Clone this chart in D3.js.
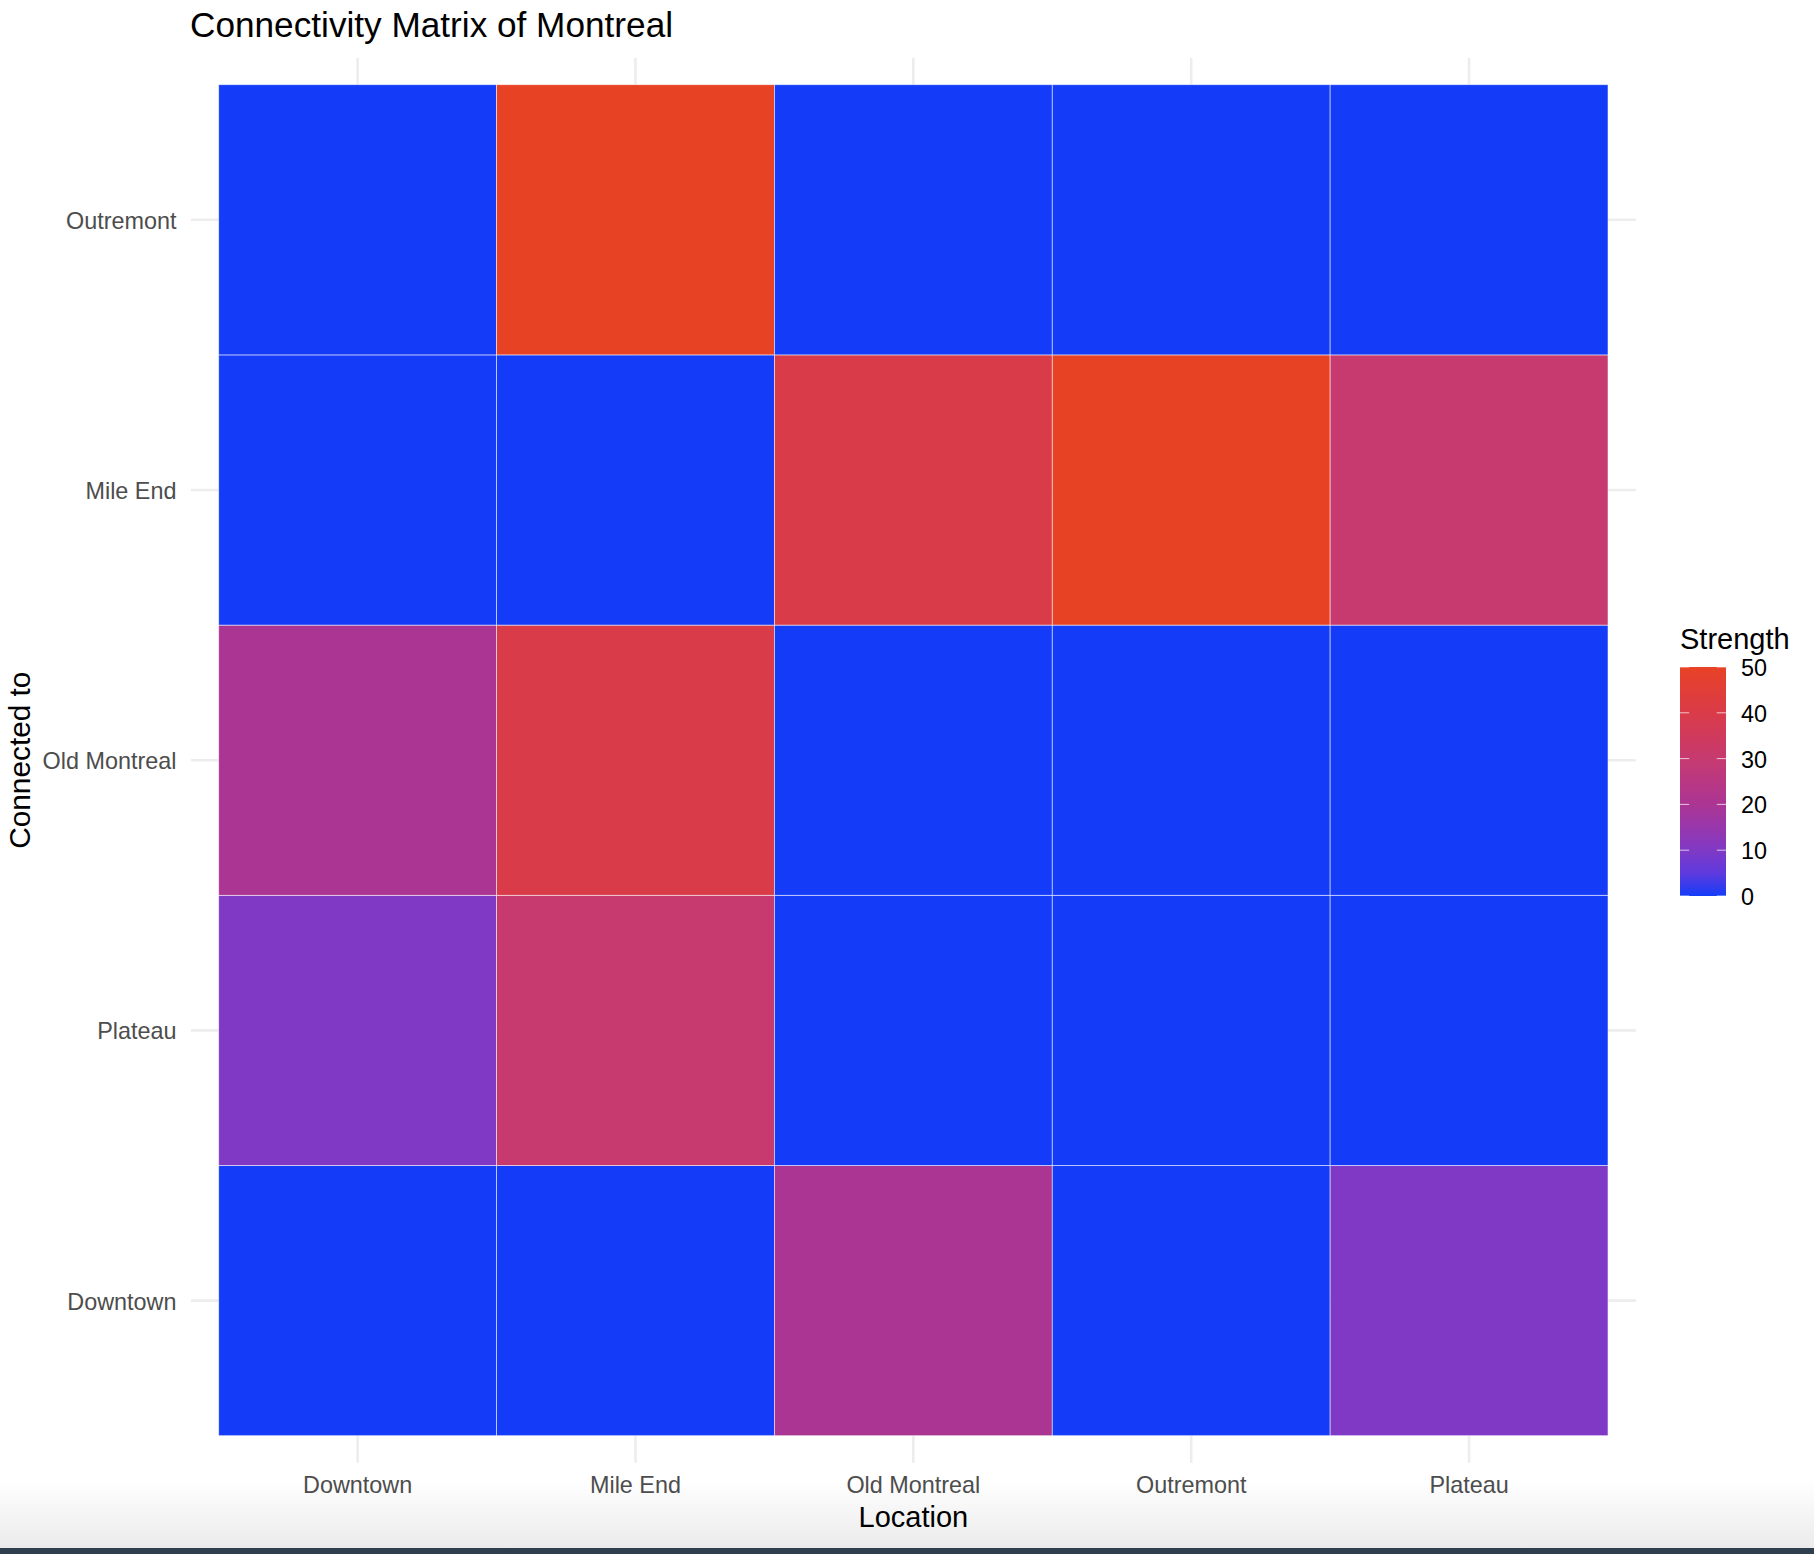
<!DOCTYPE html>
<html>
<head>
<meta charset="utf-8">
<script src="https://cdn.jsdelivr.net/npm/d3@7"></script>
<style>
    html, body { margin:0; padding:0; background:#fff; }
    svg { display:block; font-family:"Liberation Sans", Arial, sans-serif; }
</style>
</head>
<body>
<script>
//categories and values
const locations = ["Downtown", "Mile End", "Old Montreal", "Outremont", "Plateau"];
const connectedTo = ["Downtown", "Plateau", "Old Montreal", "Mile End", "Outremont"];
const strengthDowntown = [0, 10, 20, 0, 0];
const strengthMileEnd = [0, 30, 40, 0, 50];
const strengthOldMontreal = [20, 0, 0, 40, 0];
const strengthOutremont = [0, 0, 0, 50, 0];
const strengthPlateau = [10, 0, 0, 30, 0];
const legendTicks = [0, 10, 20, 30, 40, 50];
const rampColors = ["#143cf8", "#8039c5", "#ab3593", "#c63a70", "#d93b48", "#e84225"];

const columns = [strengthDowntown, strengthMileEnd, strengthOldMontreal, strengthOutremont, strengthPlateau];

const width = 1814, height = 1554;
const panel = { left:218.7, right:1608, top:84.7, bottom:1435.7 };

const svg = d3.select("body").append("svg")
    .attr("width", width)
    .attr("height", height)
    .attr("viewBox", `0 0 ${width} ${height}`);

//window shadow and dark strip along the bottom of the screenshot
const defs = svg.append("defs");
const shade = defs.append("linearGradient").attr("id","shade").attr("x1",0).attr("x2",0).attr("y1",0).attr("y2",1);
shade.append("stop").attr("offset","0%").attr("stop-color","#ffffff");
shade.append("stop").attr("offset","100%").attr("stop-color","#ebebeb");
svg.append("rect").attr("x",0).attr("y",1480).attr("width",width).attr("height",68).attr("fill","url(#shade)");
svg.append("rect").attr("x",0).attr("y",1548).attr("width",width).attr("height",6).attr("fill","#2f3f4e");

//scales
const x = d3.scaleBand().domain(locations).range([panel.left, panel.right]);
const y = d3.scaleBand().domain(connectedTo).range([panel.bottom, panel.top]);
const color = d3.scaleLinear().domain(legendTicks).range(rampColors).interpolate(d3.interpolateLab);

//grid lines stick out 0.1 of a band past the tiles
const overX = x.bandwidth() * 0.1, overY = y.bandwidth() * 0.1;
const grid = svg.append("g").attr("stroke","#ededed").attr("stroke-width",2.6);
grid.selectAll("line.vgrid")
    .data(locations)
    .enter()
    .append("line")
    .attr("class","vgrid")
    .attr("x1",d=>x(d)+x.bandwidth()/2)
    .attr("x2",d=>x(d)+x.bandwidth()/2)
    .attr("y1",panel.top-overY)
    .attr("y2",panel.bottom+overY);
grid.selectAll("line.hgrid")
    .data(connectedTo)
    .enter()
    .append("line")
    .attr("class","hgrid")
    .attr("x1",panel.left-overX)
    .attr("x2",panel.right+overX)
    .attr("y1",d=>y(d)+y.bandwidth()/2)
    .attr("y2",d=>y(d)+y.bandwidth()/2);

//tiles
const cells = locations.flatMap((loc,i)=>connectedTo.map((to,j)=>({loc, to, value:columns[i][j]})));
svg.append("g").selectAll("rect")
    .data(cells)
    .enter()
    .append("rect")
    .attr("x",d=>x(d.loc))
    .attr("y",d=>y(d.to))
    .attr("width",x.bandwidth())
    .attr("height",y.bandwidth())
    .attr("fill",d=>color(d.value))
    .attr("stroke","#ffffff")
    .attr("stroke-opacity",0.65)
    .attr("stroke-width",0.8);

//tick labels
svg.append("g").selectAll("text")
    .data(locations)
    .enter()
    .append("text")
    .attr("x",d=>x(d)+x.bandwidth()/2)
    .attr("y",1493)
    .attr("text-anchor","middle")
    .attr("fill","#4d4d4d")
    .style("font-size","23.4px")
    .text(d=>d);
svg.append("g").selectAll("text")
    .data(connectedTo)
    .enter()
    .append("text")
    .attr("x",176.5)
    .attr("y",d=>y(d)+y.bandwidth()/2+9)
    .attr("text-anchor","end")
    .attr("fill","#4d4d4d")
    .style("font-size","23.4px")
    .text(d=>d);

//titles
svg.append("text")
    .attr("x",190)
    .attr("y",36.5)
    .attr("fill","#000")
    .style("font-size","35.2px")
    .text("Connectivity Matrix of Montreal");
svg.append("text")
    .attr("x",(panel.left+panel.right)/2)
    .attr("y",1527)
    .attr("text-anchor","middle")
    .attr("fill","#000")
    .style("font-size","29px")
    .text("Location");
svg.append("text")
    .attr("transform",`translate(30,${(panel.top+panel.bottom)/2}) rotate(-90)`)
    .attr("text-anchor","middle")
    .attr("fill","#000")
    .style("font-size","29.8px")
    .text("Connected to");

//legend
const legend = { x:1680, width:46, top:667, bottom:896 };
const legendY = d3.scaleLinear().domain([0, 50]).range([legend.bottom, legend.top]);
const ramp = defs.append("linearGradient").attr("id","ramp").attr("x1",0).attr("x2",0).attr("y1",1).attr("y2",0);
ramp.selectAll("stop")
    .data(d3.range(0, 51, 5))
    .enter()
    .append("stop")
    .attr("offset",d=>`${d*2}%`)
    .attr("stop-color",d=>color(d));
svg.append("text")
    .attr("x",legend.x)
    .attr("y",649)
    .attr("fill","#000")
    .style("font-size","29px")
    .text("Strength");
svg.append("rect")
    .attr("x",legend.x)
    .attr("y",legend.top)
    .attr("width",legend.width)
    .attr("height",legend.bottom-legend.top)
    .attr("fill","url(#ramp)");
const legendTick = svg.append("g").selectAll("g")
    .data(legendTicks)
    .enter()
    .append("g")
    .attr("transform",d=>`translate(${legend.x},${legendY(d)})`);
legendTick.append("line")
    .attr("x2",legend.width/5)
    .attr("stroke","#fff").attr("stroke-opacity",0.7).attr("stroke-width",1);
legendTick.append("line")
    .attr("x1",legend.width*4/5)
    .attr("x2",legend.width)
    .attr("stroke","#fff").attr("stroke-opacity",0.7).attr("stroke-width",1);
legendTick.append("text")
    .attr("x",61)
    .attr("y",9)
    .attr("fill","#000")
    .style("font-size","23.4px")
    .text(d=>d);
</script>
</body>
</html>
